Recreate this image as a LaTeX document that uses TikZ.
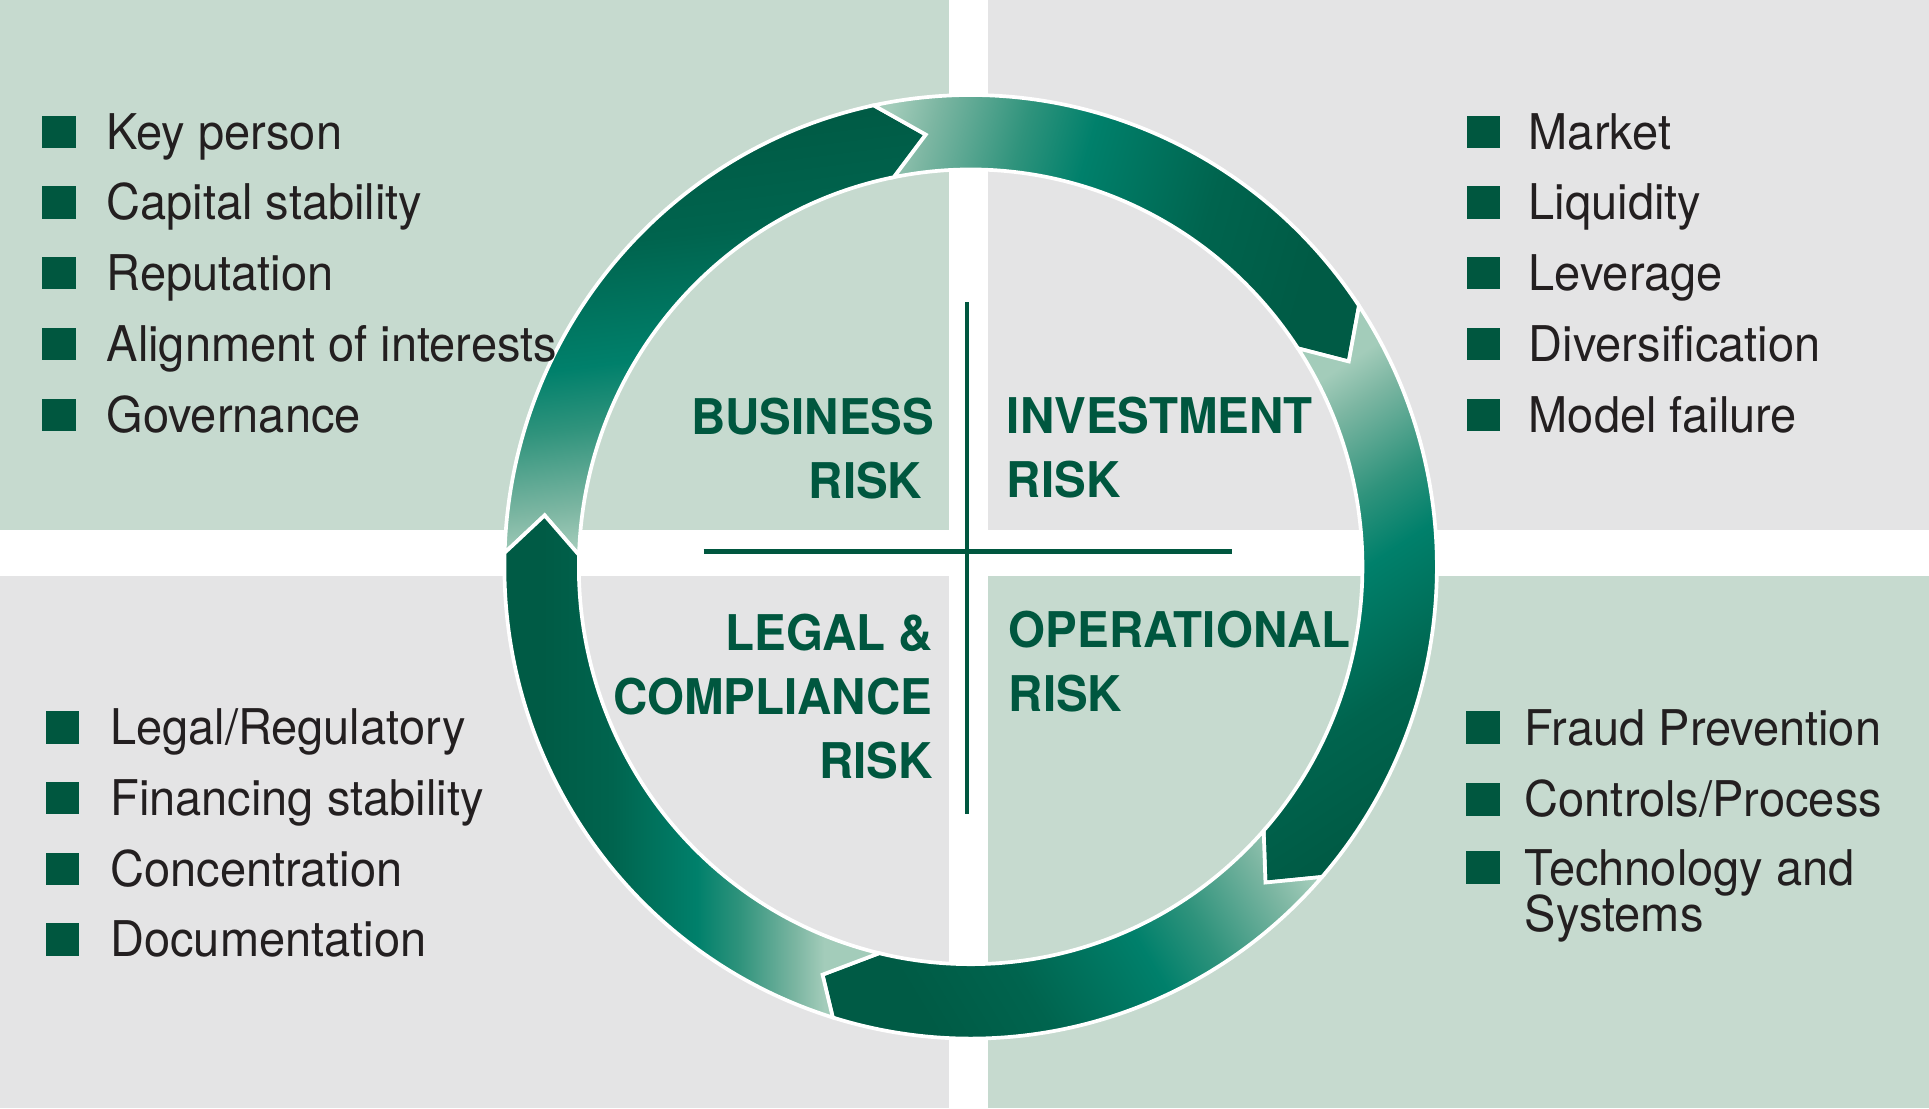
\documentclass[tikz,border=0pt]{standalone}
\usepackage{fontspec}
\setmainfont{TeX Gyre Heros}
\newfontfamily\listfont{TeX Gyre Heros}[FakeStretch=0.955]
\newfontfamily\labelfont{TeX Gyre Heros}[FakeStretch=0.965]
\definecolor{bggreen}{HTML}{C6DACF}
\definecolor{bggray}{HTML}{E4E4E5}
\definecolor{darkgreen}{HTML}{00573F}
\definecolor{listgray}{HTML}{231F20}
\definecolor{gl}{HTML}{A3CCBA}
\definecolor{gone}{HTML}{7CB6A2}
\definecolor{gtwo}{HTML}{2F937C}
\definecolor{gt}{HTML}{00806B}
\definecolor{gdone}{HTML}{00644E}
\definecolor{gd}{HTML}{005B45}
\pgfdeclarehorizontalshading{ringgrad}{100bp}{color(0bp)=(gl); color(43.75bp)=(gl); color(45bp)=(gone); color(47.5bp)=(gtwo); color(49.375bp)=(gt); color(53.125bp)=(gdone); color(56.25bp)=(gd); color(100bp)=(gd)}
\tikzset{
  bulletbox/.style={fill=darkgreen, draw=none, inner sep=0pt, minimum width=27.4pt, minimum height=26.3pt, anchor=south west},
  listtext/.style={anchor=base west, inner sep=0pt, text=listgray, font=\listfont\fontsize{40}{40}\selectfont},
  risklabel/.style={inner sep=0pt, text=darkgreen, font=\labelfont\bfseries\fontsize{40}{40}\selectfont},
  ringline/.style={draw=white, line width=3pt, line join=miter},
  crossline/.style={draw=darkgreen, line width=3.3pt},
}
\newcommand\ringarrow[9]{%
  \begin{scope}
    \clip (#1:379 and 383.5) arc[start angle=#1, end angle=#4, x radius=379, y radius=383.5]
      -- (#6:348.75 and 353.25) -- (#5:318.5 and 323)
      arc[start angle=#5, end angle=#2, x radius=318.5, y radius=323]
      -- (#3:348.75 and 353.25) -- cycle;
    \shade[shading=ringgrad, shading angle=#7] #8 rectangle #9;
  \end{scope}
  \draw[ringline] (#1:379 and 383.5) arc[start angle=#1, end angle=#4, x radius=379, y radius=383.5]
      -- (#6:348.75 and 353.25) -- (#5:318.5 and 323)
      arc[start angle=#5, end angle=#2, x radius=318.5, y radius=323]
      -- (#3:348.75 and 353.25) -- cycle;
}
\begin{document}
\begin{tikzpicture}[x=1pt, y=1pt]
\useasboundingbox (0,0) rectangle (1568,901);
\fill[white] (0,0) rectangle (1568,901);
% quadrant backgrounds
\fill[bggreen] (0,470.5) rectangle (771,901);
\fill[bggray] (803.4,470.5) rectangle (1568,901);
\fill[bggray] (0,0) rectangle (771,433);
\fill[bggreen] (803.4,0) rectangle (1568,433);
% cross
\coordinate (hl) at (572,452.7);
\coordinate (hr) at (1001.5,452.7);
\coordinate (vt) at (786,655.4);
\coordinate (vb) at (786,239);
\draw[crossline] (hl) -- (hr);
\draw[crossline] (vt) -- (vb);
% ring of five arrows
\begin{scope}[shift={(789,440.25)}]
\ringarrow{178.3}{178.3}{173.2}{102.0}{101.3}{96.0}{97.13}{(-984,-469.25)}{(306,820.75)}
\ringarrow{102.0}{101.3}{96.0}{33.6}{33.35}{28.2}{-15.95}{(-622,-417.25)}{(834,1038.75)}
\ringarrow{33.6}{33.35}{28.2}{-41.1}{-41.6}{-46.6}{-56.55}{(-270.3,-633.05)}{(1043.3,680.55)}
\ringarrow{-41.1}{-41.6}{-46.6}{-107.2}{-103.5}{-110.2}{-148.74}{(-544.2,-949.45)}{(766.2,360.95)}
\ringarrow{-107.2}{-103.5}{-110.2}{-181.7}{-181.7}{-186.8}{180}{(-694,-619.25)}{(226,300.75)}
\end{scope}
% centre labels
\node[risklabel, anchor=base east] (bus1) at (759.5,548) {BUSINESS};
\node[risklabel, anchor=base east] (bus2) at (749.8,496) {RISK};
\node[risklabel, anchor=base west] (inv1) at (818.3,548.5) {INVESTMENT};
\node[risklabel, anchor=base west] (inv2) at (818.3,496.5) {RISK};
\node[risklabel, anchor=base east] (leg1) at (758.8,372) {LEGAL \&};
\node[risklabel, anchor=base east] (leg2) at (758.2,320.1) {COMPLIANCE};
\node[risklabel, anchor=base east] (leg3) at (758.2,268.3) {RISK};
\node[risklabel, anchor=base west] (op1) at (819.8,374.7) {OPERATIONAL};
\node[risklabel, anchor=base west] (op2) at (819.8,323) {RISK};
% top-left list
\node[bulletbox] (tlb1) at (34.2,780.4) {};
\node[bulletbox] (tlb2) at (34.2,723.0) {};
\node[bulletbox] (tlb3) at (34.2,665.5) {};
\node[bulletbox] (tlb4) at (34.2,607.8) {};
\node[bulletbox] (tlb5) at (34.2,550.4) {};
\node[listtext] (tlt1) at (86.5,779.6) {Key person};
\node[listtext] (tlt2) at (86.5,722.2) {Capital stability};
\node[listtext] (tlt3) at (86.5,664.7) {Reputation};
\node[listtext] (tlt4) at (86.5,607.0) {Alignment of interests};
\node[listtext] (tlt5) at (86.5,549.6) {Governance};
% top-right list
\node[bulletbox] (trb1) at (1192,780.4) {};
\node[bulletbox] (trb2) at (1192,723.0) {};
\node[bulletbox] (trb3) at (1192,665.5) {};
\node[bulletbox] (trb4) at (1192,607.8) {};
\node[bulletbox] (trb5) at (1192,550.4) {};
\node[listtext] (trt1) at (1242.5,779.6) {Market};
\node[listtext] (trt2) at (1242.5,722.2) {Liquidity};
\node[listtext] (trt3) at (1242.5,664.7) {Leverage};
\node[listtext] (trt4) at (1242.5,607.0) {Diversification};
\node[listtext] (trt5) at (1242.5,549.6) {Model failure};
% bottom-left list
\node[bulletbox] (blb1) at (37,296.4) {};
\node[bulletbox] (blb2) at (37,238.9) {};
\node[bulletbox] (blb3) at (37,181.4) {};
\node[bulletbox] (blb4) at (37,123.9) {};
\node[listtext] (blt1) at (89.5,295.6) {Legal/Regulatory};
\node[listtext] (blt2) at (89.5,238.1) {Financing stability};
\node[listtext] (blt3) at (89.5,180.6) {Concentration};
\node[listtext] (blt4) at (89.5,123.1) {Documentation};
% bottom-right list
\node[bulletbox] (brb1) at (1191.7,296.2) {};
\node[bulletbox] (brb2) at (1191.7,237.7) {};
\node[bulletbox] (brb3) at (1191.7,182.4) {};
\node[listtext] (brt1) at (1239.2,295.3) {Fraud Prevention};
\node[listtext] (brt2) at (1239.2,237.7) {Controls/Process};
\node[listtext] (brt3) at (1239.2,181.0) {Technology and};
\node[listtext] (brt4) at (1239.2,143.7) {Systems};
\end{tikzpicture}
\end{document}
